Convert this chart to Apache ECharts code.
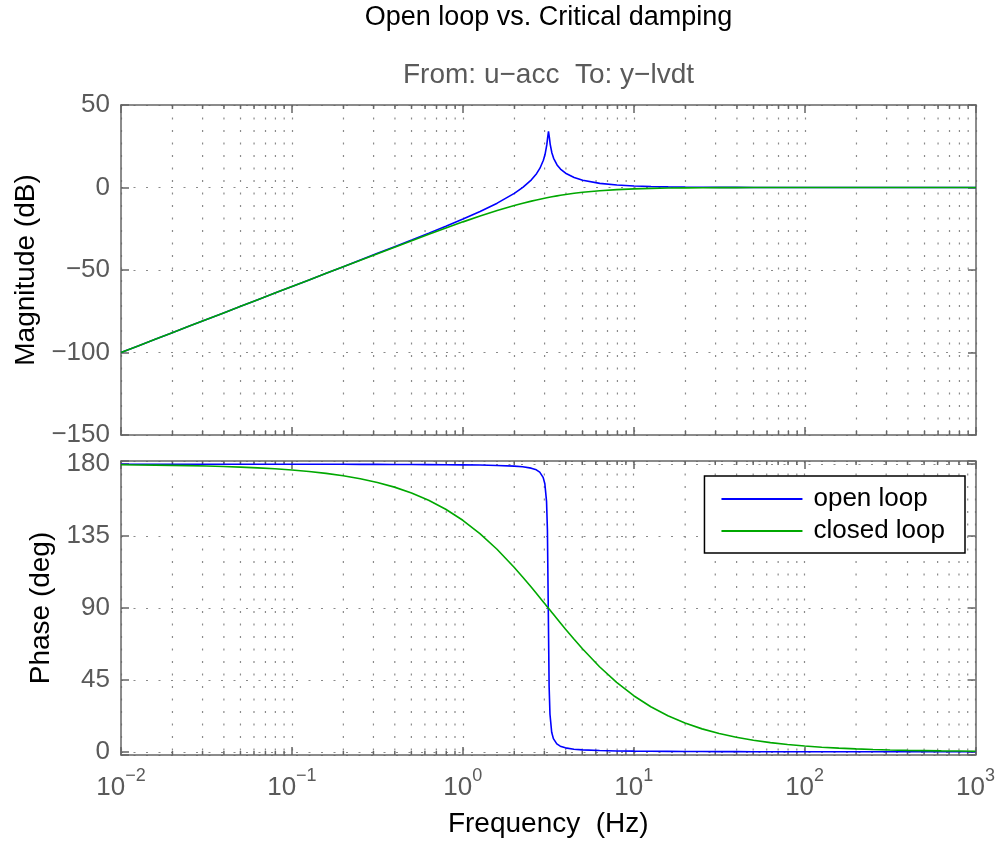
<!DOCTYPE html>
<html>
<head>
<meta charset="utf-8">
<script src="https://cdn.jsdelivr.net/npm/echarts@6/dist/echarts.min.js"></script>
<style>html,body{margin:0;padding:0;background:#fff}#chart{width:998px;height:841px}</style>
</head>
<body>
<div id="chart"></div>
<script>
// ---------- data (Bode plot) ----------
const FREQ_HZ = [0.01, 0.012589, 0.015849, 0.019953, 0.025119, 0.031623, 0.039811, 0.050119, 0.063096, 0.079433,
  0.1, 0.12589, 0.15849, 0.19953, 0.25119, 0.31623, 0.39811, 0.50119, 0.63096, 0.79433,
  1, 1.2589, 1.5849, 1.9953, 2.2387, 2.5119, 2.6915, 2.8184, 2.9512, 3.0200, 3.0903, 3.1261, 3.1623,
  3.1989, 3.2359, 3.3113, 3.3884, 3.5481, 3.7154, 3.9811, 4.4668, 5.0119, 6.3096, 7.9433,
  10, 12.589, 15.849, 19.953, 25.119, 31.623, 39.811, 50.119, 63.096, 79.433,
  100, 125.89, 158.49, 199.53, 251.19, 316.23, 398.11, 501.19, 630.96, 794.33, 1000];

const OPEN_MAG_DB = [-100, -96, -92, -88, -84, -80, -76, -72, -68, -64,
  -60, -55.99, -51.98, -47.97, -43.95, -39.91, -35.86, -31.78, -27.65, -23.43,
  -19.08, -14.50, -9.49, -3.59, 0.04, 4.65, 8.38, 11.70, 16.50, 20.11, 25.79, 30.20, 33.98,
  30.41, 26.19, 20.91, 17.70, 13.70, 11.18, 8.65, 6.04, 4.41, 2.51, 1.50,
  0.92, 0.57, 0.35, 0.22, 0.14, 0.09, 0.05, 0.03, 0.02, 0.01,
  0.01, 0, 0, 0, 0, 0, 0, 0, 0, 0, 0];

const CLOSED_MAG_DB = [-100, -96, -92, -88, -84, -80, -76, -72, -68, -64,
  -60.01, -56.01, -52.02, -48.03, -44.05, -40.09, -36.14, -32.22, -28.34, -24.53,
  -20.83, -17.28, -13.95, -10.91, -9.53, -8.25, -7.53, -7.08, -6.64, -6.43, -6.22, -6.12, -6.02,
  -5.92, -5.82, -5.63, -5.44, -5.08, -4.73, -4.25, -3.53, -2.91, -1.95, -1.28,
  -0.83, -0.53, -0.34, -0.22, -0.14, -0.09, -0.05, -0.03, -0.02, -0.01,
  -0.01, 0, 0, 0, 0, 0, 0, 0, 0, 0, 0];

const OPEN_PHASE_DEG = [180, 180, 180, 179.99, 179.99, 179.99, 179.99, 179.98, 179.98, 179.97,
  179.96, 179.95, 179.94, 179.93, 179.91, 179.88, 179.85, 179.81, 179.76, 179.69,
  179.60, 179.46, 179.23, 178.80, 178.37, 177.53, 176.47, 175.05, 171.77, 167.76, 156.53, 139.06, 90.00,
  40.97, 23.48, 12.24, 8.24, 4.95, 3.54, 2.47, 1.63, 1.20, 0.77, 0.54,
  0.40, 0.31, 0.24, 0.19, 0.15, 0.12, 0.09, 0.07, 0.06, 0.05,
  0.04, 0.03, 0.02, 0.02, 0.01, 0.01, 0.01, 0.01, 0, 0, 0];

const CLOSED_PHASE_DEG = [179.64, 179.54, 179.43, 179.28, 179.09, 178.85, 178.56, 178.18, 177.71, 177.12,
  176.38, 175.44, 174.26, 172.78, 170.92, 168.58, 165.65, 161.99, 157.43, 151.79,
  144.90, 136.60, 126.76, 115.50, 109.39, 103.08, 99.20, 96.58, 93.95, 92.63, 91.32, 90.66, 90.00,
  89.34, 88.68, 87.37, 86.05, 83.42, 80.80, 76.92, 70.61, 64.50, 53.24, 43.40,
  35.10, 28.21, 22.57, 18.01, 14.35, 11.42, 9.08, 7.22, 5.74, 4.56,
  3.62, 2.88, 2.29, 1.82, 1.44, 1.15, 0.91, 0.72, 0.57, 0.46, 0.36];

const MINOR_X_TICKS = [0.02, 0.03, 0.04, 0.05, 0.06, 0.07, 0.08, 0.09,
  0.2, 0.3, 0.4, 0.5, 0.6, 0.7, 0.8, 0.9,
  2, 3, 4, 5, 6, 7, 8, 9,
  20, 30, 40, 50, 60, 70, 80, 90,
  200, 300, 400, 500, 600, 700, 800, 900];

const SERIES_NAMES = ['open loop', 'closed loop'];
const TITLE = 'Open loop vs. Critical damping';
const SUBTITLE = 'From: u\u2212acc  To: y\u2212lvdt';
const MAG_AXIS = { name: 'Magnitude (dB)', min: -150, max: 50, step: 50 };
const PHASE_AXIS = { name: 'Phase (deg)', min: -2, max: 182, step: 45 };
const X_AXIS = { name: 'Frequency  (Hz)', min: 0.01, max: 1000 };

// ---------- styling ----------
const FONT = '"Liberation Sans", Arial, Helvetica, sans-serif';
const FRAME = '#666666';
const LABEL = '#5a5a5a';
const GRIDC = '#8a8a8a';
const DOT = [2, 10.5];
const BLUE = '#0000ff';
const GREEN = '#00a800';

const pairs = (ys) => FREQ_HZ.map((f, i) => [f, ys[i]]);
const minus = (v) => (v < 0 ? '\u2212' + (-v) : String(v));

function xAxisCfg(gridIndex, position, showLabel) {
  return {
    type: 'log', logBase: 10, gridIndex, position,
    min: X_AXIS.min, max: X_AXIS.max,
    axisLine: { show: true, onZero: false, lineStyle: { color: FRAME, width: 1.5 } },
    axisTick: { show: true, inside: true, length: 8, lineStyle: { color: FRAME, width: 1.5 } },
    splitLine: { show: position === 'bottom', lineStyle: { color: GRIDC, width: 1.2, type: DOT } },
    axisLabel: showLabel ? {
      show: true, margin: 12, color: LABEL, fontFamily: FONT,
      formatter: (v) => {
        const e = Math.round(Math.log10(v));
        return '{b|10}{s|' + (e < 0 ? '\u2212' + (-e) : e) + '}';
      },
      rich: {
        b: { fontSize: 26, fontFamily: FONT, color: LABEL, lineHeight: 34, verticalAlign: 'bottom' },
        s: { fontSize: 18, fontFamily: FONT, color: LABEL, lineHeight: 34, verticalAlign: 'top' }
      }
    } : { show: false },
    name: showLabel ? X_AXIS.name : '',
    nameLocation: 'middle', nameGap: 55,
    nameTextStyle: { fontSize: 28, color: '#000', fontFamily: FONT }
  };
}

function yAxisCfg(gridIndex, position, ax, showLabel, nameGap) {
  return {
    type: 'value', gridIndex, position,
    min: ax.min, max: ax.max,
    minInterval: ax.step, maxInterval: ax.step,
    axisLine: { show: true, onZero: false, lineStyle: { color: FRAME, width: 1.5 } },
    axisTick: { show: true, inside: true, length: 8, lineStyle: { color: FRAME, width: 1.5 } },
    splitLine: { show: position === 'left', lineStyle: { color: GRIDC, width: 1.2, type: DOT } },
    axisLabel: showLabel ? {
      show: true, margin: 11, fontSize: 26, color: LABEL, fontFamily: FONT,
      formatter: (v) => (Math.abs(v % ax.step) < 1e-6 ? minus(v) : '')
    } : { show: false },
    name: showLabel ? ax.name : '',
    nameLocation: 'middle', nameGap: nameGap || 0,
    nameTextStyle: { fontSize: 28, color: '#000', fontFamily: FONT }
  };
}

function minorGridSeries(xi, yi, yv) {
  return {
    type: 'custom', xAxisIndex: xi, yAxisIndex: yi, silent: true, clip: false, z: 1,
    data: MINOR_X_TICKS.map((f) => [f, yv]),
    renderItem: (params, api) => {
      const x = api.coord([api.value(0), api.value(1)])[0];
      const cs = params.coordSys;
      return {
        type: 'group',
        children: [
          { type: 'line', shape: { x1: x, y1: cs.y, x2: x, y2: cs.y + cs.height },
            style: { stroke: GRIDC, lineWidth: 1.2, lineDash: DOT } },
          { type: 'line', shape: { x1: x, y1: cs.y, x2: x, y2: cs.y + 4 },
            style: { stroke: FRAME, lineWidth: 1.5 } },
          { type: 'line', shape: { x1: x, y1: cs.y + cs.height, x2: x, y2: cs.y + cs.height - 4 },
            style: { stroke: FRAME, lineWidth: 1.5 } }
        ]
      };
    }
  };
}

function lineSeries(name, xi, yi, ys, color) {
  return {
    name, type: 'line', xAxisIndex: xi, yAxisIndex: yi, data: pairs(ys),
    symbol: 'none', smooth: false, z: 3,
    lineStyle: { color, width: 1.6 }, itemStyle: { color }
  };
}

const chart = echarts.init(document.getElementById('chart'), null, { renderer: 'canvas' });
chart.setOption({
  animation: false,
  backgroundColor: '#fff',
  textStyle: { fontFamily: FONT },
  graphic: [
    { type: 'text', x: 548.5, y: 18, style: { text: TITLE, font: '27px ' + FONT, fill: '#000', align: 'center', verticalAlign: 'middle' } },
    { type: 'text', x: 548.5, y: 75, style: { text: SUBTITLE, font: '28px ' + FONT, fill: LABEL, align: 'center', verticalAlign: 'middle' } }
  ],
  grid: [
    { left: 121, top: 105, width: 855, height: 330, containLabel: false },
    { left: 121, top: 461, width: 855, height: 294, containLabel: false }
  ],
  xAxis: [
    xAxisCfg(0, 'bottom', false),
    xAxisCfg(0, 'top', false),
    xAxisCfg(1, 'bottom', true),
    xAxisCfg(1, 'top', false)
  ],
  yAxis: [
    yAxisCfg(0, 'left', MAG_AXIS, true, 70),
    yAxisCfg(0, 'right', MAG_AXIS, false),
    yAxisCfg(1, 'left', PHASE_AXIS, true, 66),
    yAxisCfg(1, 'right', PHASE_AXIS, false)
  ],
  legend: {
    data: SERIES_NAMES, orient: 'vertical', right: 33, top: 476,
    icon: 'rect', itemWidth: 81, itemHeight: 2, itemGap: 6, padding: [10, 20, 9, 17],
    borderColor: '#000', borderWidth: 1.5, backgroundColor: '#fff', selectedMode: false,
    textStyle: { fontSize: 26, color: '#000', fontFamily: FONT, lineHeight: 26, padding: [0, 0, 0, 6] }
  },
  series: [
    minorGridSeries(0, 0, 0),
    minorGridSeries(2, 2, 90),
    lineSeries(SERIES_NAMES[0], 0, 0, OPEN_MAG_DB, BLUE),
    lineSeries(SERIES_NAMES[1], 0, 0, CLOSED_MAG_DB, GREEN),
    lineSeries(SERIES_NAMES[0], 2, 2, OPEN_PHASE_DEG, BLUE),
    lineSeries(SERIES_NAMES[1], 2, 2, CLOSED_PHASE_DEG, GREEN)
  ]
});
</script>
</body>
</html>
